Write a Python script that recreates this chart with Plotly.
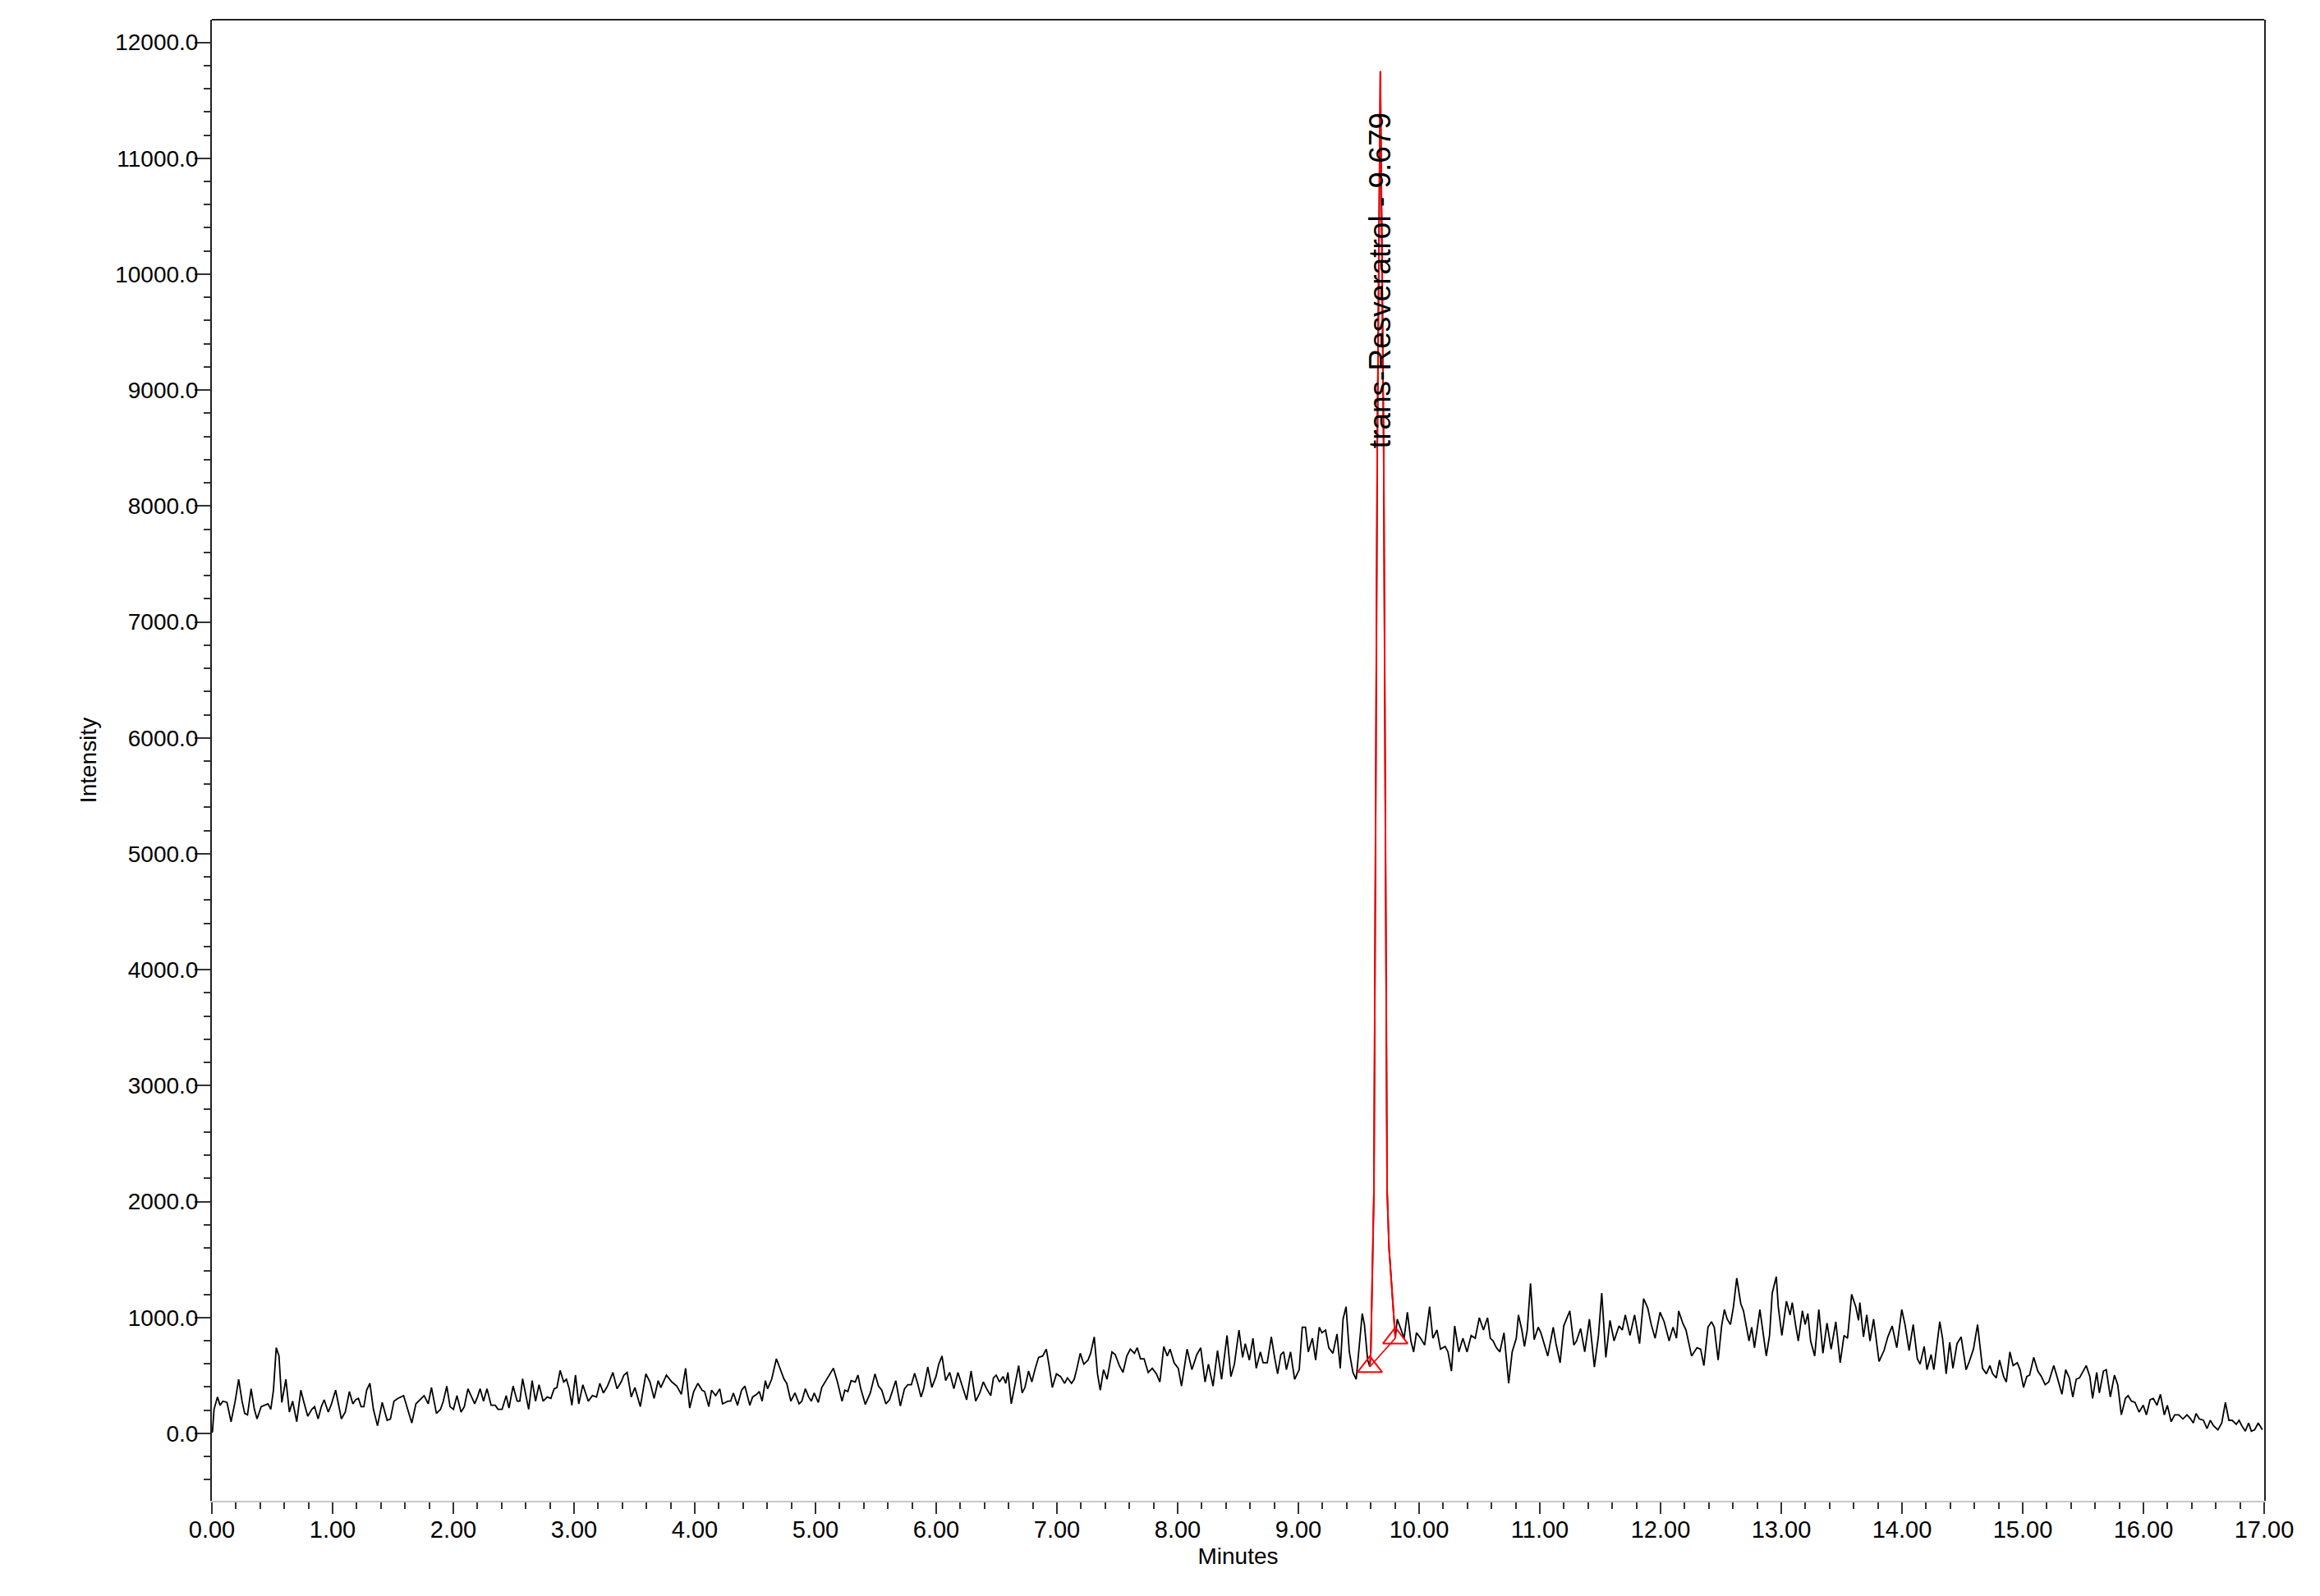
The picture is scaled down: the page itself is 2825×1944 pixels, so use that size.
import plotly.graph_objects as go

# ---------------- data (minutes, intensity) ----------------
t_00_02 = [0.000, 0.005, 0.018, 0.046, 0.068, 0.091, 0.125, 0.159, 0.193, 0.222, 0.250, 0.272, 0.295, 0.325,
           0.352, 0.374, 0.408, 0.442, 0.465, 0.488, 0.510, 0.533, 0.556, 0.579, 0.613, 0.642, 0.669, 0.703,
           0.737, 0.760, 0.794, 0.828, 0.851, 0.880, 0.907, 0.930, 0.964, 0.987, 1.025, 1.048, 1.073, 1.105,
           1.139, 1.168, 1.191, 1.214, 1.236, 1.259, 1.282, 1.309, 1.338, 1.372, 1.411, 1.452, 1.479, 1.508,
           1.542, 1.588, 1.622, 1.656, 1.690, 1.724, 1.758, 1.792, 1.819, 1.860, 1.894, 1.917, 1.946, 1.973,
           2.001, 2.030, 2.064, 2.091, 2.121]
i_00_02 = [5, 19, 208, 314, 243, 278, 267, 101, 278, 467, 278, 172, 160, 385, 208, 125, 231, 243, 255, 208,
           373, 739, 668, 267, 467, 184, 278, 101, 373, 278, 149, 208, 231, 125, 231, 290, 184, 243, 373, 255,
           125, 184, 361, 255, 290, 302, 231, 231, 373, 432, 208, 66, 267, 113, 125, 278, 302, 326, 208, 90,
           255, 290, 326, 255, 396, 172, 208, 278, 408, 231, 208, 326, 184, 231, 385]

t_02_04 = [2.177, 2.200, 2.222, 2.250, 2.279, 2.313, 2.347, 2.370, 2.404, 2.438, 2.461, 2.495, 2.529, 2.551,
           2.574, 2.597, 2.624, 2.653, 2.681, 2.710, 2.744, 2.778, 2.808, 2.835, 2.858, 2.885, 2.914, 2.937,
           2.960, 2.982, 3.012, 3.039, 3.073, 3.118, 3.152, 3.186, 3.214, 3.243, 3.277, 3.322, 3.356, 3.390,
           3.413, 3.440, 3.474, 3.504, 3.549, 3.595, 3.629, 3.663, 3.697, 3.719, 3.765, 3.810, 3.851, 3.889,
           3.924, 3.958, 3.991, 4.026, 4.060, 4.082, 4.116, 4.139, 4.173, 4.207, 4.230]
i_02_04 = [255, 314, 385, 278, 385, 243, 243, 208, 208, 326, 219, 408, 278, 278, 472, 349, 208, 455, 278, 420,
           278, 314, 302, 385, 396, 543, 444, 467, 385, 243, 503, 255, 420, 278, 326, 314, 432, 349, 408, 526,
           385, 444, 503, 526, 314, 396, 231, 514, 444, 302, 455, 396, 503, 444, 408, 337, 562, 219, 361, 432,
           373, 361, 231, 373, 326, 385, 255]

t_04_06 = [4.275, 4.297, 4.320, 4.354, 4.388, 4.415, 4.456, 4.479, 4.513, 4.535, 4.558, 4.585, 4.603, 4.637,
           4.676, 4.706, 4.740, 4.762, 4.796, 4.830, 4.864, 4.887, 4.916, 4.944, 4.966, 4.989, 5.023, 5.052,
           5.080, 5.102, 5.125, 5.148, 5.182, 5.220, 5.243, 5.268, 5.295, 5.329, 5.352, 5.375, 5.413, 5.454,
           5.493, 5.522, 5.549, 5.583, 5.613, 5.665, 5.703, 5.737, 5.765, 5.794, 5.821, 5.846, 5.874, 5.896,
           5.930, 5.964, 5.998, 6.021, 6.048, 6.078, 6.112, 6.146, 6.180, 6.214, 6.252, 6.289, 6.327, 6.361]
i_04_06 = [278, 278, 349, 243, 373, 408, 243, 314, 337, 361, 278, 455, 385, 467, 644, 562, 467, 432, 278, 349,
           255, 278, 385, 314, 278, 349, 267, 396, 444, 479, 526, 562, 444, 278, 373, 361, 455, 444, 503, 385,
           250, 349, 514, 408, 373, 255, 290, 455, 236, 385, 420, 420, 519, 432, 314, 385, 573, 396, 491, 597,
           668, 455, 526, 385, 526, 408, 290, 538, 278, 349]

t_06_08 = [6.390, 6.418, 6.452, 6.474, 6.497, 6.524, 6.554, 6.576, 6.594, 6.622, 6.656, 6.683, 6.712, 6.735,
           6.765, 6.792, 6.821, 6.848, 6.882, 6.912, 6.935, 6.962, 6.996, 7.030, 7.064, 7.087, 7.121, 7.143,
           7.166, 7.193, 7.223, 7.257, 7.279, 7.309, 7.336, 7.359, 7.386, 7.415, 7.456, 7.483, 7.517, 7.547,
           7.579, 7.608, 7.642, 7.665, 7.692, 7.722, 7.756, 7.790, 7.824, 7.853, 7.885, 7.914, 7.937, 7.971,
           8.005, 8.032, 8.078, 8.118, 8.159, 8.191, 8.227, 8.255, 8.293, 8.330, 8.364, 8.409, 8.441, 8.470]
i_06_08 = [444, 385, 326, 479, 503, 444, 491, 432, 526, 255, 432, 585, 349, 396, 538, 444, 562, 656, 668, 727,
           585, 396, 514, 491, 432, 479, 432, 467, 562, 691, 597, 632, 691, 833, 514, 373, 550, 467, 703, 680,
           585, 526, 668, 727, 691, 739, 644, 644, 526, 562, 514, 444, 750, 668, 727, 609, 562, 408, 727, 550,
           680, 739, 444, 597, 408, 715, 467, 845, 491, 597]

t_08_pk = [8.508, 8.538, 8.560, 8.594, 8.624, 8.651, 8.685, 8.708, 8.742, 8.776, 8.803, 8.828, 8.855, 8.878,
           8.901, 8.935, 8.969, 9.007, 9.032, 9.059, 9.082, 9.116, 9.143, 9.173, 9.195, 9.225, 9.252, 9.286,
           9.320, 9.347, 9.370, 9.395, 9.422, 9.452, 9.479, 9.502, 9.529, 9.547, 9.574]
i_08_pk = [892, 656, 774, 632, 821, 562, 703, 609, 609, 833, 656, 514, 680, 703, 550, 703, 467, 550, 916, 916,
           703, 821, 632, 916, 868, 892, 739, 691, 857, 562, 986, 1093, 703, 526, 467, 739, 1034, 939, 632]

# trans-Resveratrol peak (start -> apex -> end)
peak_t = [9.592, 9.600, 9.613, 9.626, 9.640, 9.653, 9.667, 9.679, 9.693, 9.707, 9.721, 9.735, 9.751, 9.773, 9.803]
peak_i = [575, 700, 1400, 2100, 5300, 8400, 10200, 11750, 10100, 8400, 5200, 2100, 1600, 1250, 822]
peak_name = "trans-Resveratrol"
peak_rt = 9.679
peak_base_t = [9.592, 9.803]
peak_base_i = [575, 822]

t_pk_105 = [9.819, 9.853, 9.876, 9.903, 9.932, 9.955, 9.978, 10.012, 10.046, 10.087, 10.114, 10.148, 10.177,
            10.216, 10.239, 10.268, 10.295, 10.329, 10.363, 10.397, 10.431, 10.465, 10.499, 10.533, 10.567]
i_pk_105 = [986, 892, 821, 1045, 798, 703, 868, 821, 762, 1093, 821, 892, 727, 750, 703, 538, 927, 703, 821,
            703, 845, 821, 998, 892, 998]

t_105_127 = [10.590, 10.613, 10.640, 10.669, 10.703, 10.742, 10.771, 10.805, 10.823, 10.851, 10.873, 10.896,
             10.923, 10.953, 10.987, 11.009, 11.066, 11.111, 11.134, 11.168, 11.198, 11.248, 11.282, 11.304,
             11.338, 11.372, 11.411, 11.452, 11.486, 11.513, 11.547, 11.581, 11.615, 11.656, 11.683, 11.708,
             11.747, 11.785, 11.826, 11.860, 11.894, 11.923, 11.955, 11.996, 12.030, 12.071, 12.103, 12.132,
             12.150, 12.184, 12.211, 12.257, 12.302, 12.332, 12.359, 12.393, 12.422, 12.445, 12.477, 12.506,
             12.529, 12.552, 12.579, 12.604, 12.631, 12.665]
i_105_127 = [821, 798, 739, 703, 868, 432, 703, 821, 1022, 892, 750, 892, 1293, 809, 916, 868, 668, 916, 774,
             609, 927, 1057, 762, 798, 904, 703, 986, 573, 845, 1211, 656, 975, 798, 927, 892, 1022, 845, 1022,
             774, 1163, 1081, 939, 821, 1045, 963, 798, 916, 821, 1057, 951, 892, 668, 739, 727, 585, 916, 963,
             916, 632, 927, 1069, 986, 939, 1093, 1340, 1116]

t_127_148 = [12.687, 12.710, 12.733, 12.755, 12.778, 12.823, 12.846, 12.876, 12.903, 12.925, 12.959, 12.975,
             13.005, 13.028, 13.043, 13.073, 13.091, 13.118, 13.141, 13.175, 13.198, 13.220, 13.243, 13.277,
             13.311, 13.345, 13.379, 13.413, 13.452, 13.488, 13.520, 13.549, 13.583, 13.617, 13.640, 13.651,
             13.681, 13.708, 13.735, 13.765, 13.810, 13.851, 13.883, 13.919, 13.957, 13.998, 14.025, 14.059,
             14.093, 14.127, 14.150, 14.184, 14.207, 14.241, 14.264, 14.313, 14.336, 14.366, 14.395, 14.422,
             14.456, 14.490, 14.531, 14.558, 14.592, 14.626, 14.667, 14.699, 14.728, 14.751, 14.781, 14.808]
i_127_148 = [1057, 916, 798, 916, 739, 1069, 892, 668, 845, 1211, 1352, 1093, 845, 1022, 1140, 1022, 1128, 939,
             798, 1057, 939, 1034, 798, 668, 1069, 691, 951, 727, 963, 609, 845, 821, 1199, 1093, 975, 1128,
             833, 1022, 798, 986, 621, 715, 833, 927, 739, 1069, 939, 715, 939, 644, 597, 750, 550, 680, 550,
             963, 821, 514, 786, 562, 774, 833, 550, 621, 727, 939, 562, 514, 585, 514, 479, 632]

t_148_17 = [14.842, 14.864, 14.894, 14.921, 14.955, 14.978, 15.007, 15.034, 15.057, 15.091, 15.125, 15.155,
            15.186, 15.216, 15.257, 15.284, 15.325, 15.356, 15.386, 15.415, 15.443, 15.470, 15.499, 15.526,
            15.556, 15.579, 15.613, 15.635, 15.669, 15.692, 15.726, 15.760, 15.787, 15.817, 15.851, 15.873,
            15.901, 15.930, 15.964, 15.998, 16.025, 16.055, 16.082, 16.112, 16.141, 16.173, 16.198, 16.230,
            16.259, 16.293, 16.327, 16.361, 16.391, 16.413, 16.436, 16.463, 16.497, 16.527, 16.554, 16.581,
            16.617, 16.649, 16.679, 16.708, 16.735, 16.769, 16.792, 16.815, 16.844, 16.871, 16.894, 16.921,
            16.951, 16.985]
i_148_17 = [491, 444, 703, 585, 609, 550, 396, 491, 503, 656, 538, 491, 420, 444, 585, 491, 337, 550, 479, 314,
            467, 479, 538, 585, 491, 302, 526, 349, 538, 550, 314, 503, 420, 160, 302, 326, 278, 267, 184, 243,
            160, 290, 302, 243, 337, 160, 243, 101, 160, 160, 125, 160, 125, 90, 172, 125, 113, 42, 113, 66,
            31, 90, 267, 113, 113, 78, 113, 66, 19, 90, 19, 31, 90, 31]

x_ticks = [i for i in range(0, 18)]
y_ticks = [i * 1000 for i in range(0, 13)]

# ---------------- build ----------------
time = (t_00_02 + t_02_04 + t_04_06 + t_06_08 + t_08_pk + peak_t + t_pk_105 + t_105_127 + t_127_148 + t_148_17)
inten = (i_00_02 + i_02_04 + i_04_06 + i_06_08 + i_08_pk + peak_i + i_pk_105 + i_105_127 + i_127_148 + i_148_17)

FONT = "Liberation Sans, Arial, sans-serif"

fig = go.Figure()
fig.add_trace(go.Scatter(x=time, y=inten, mode="lines",
                         line=dict(color="#000000", width=1.8), showlegend=False, hoverinfo="skip"))
fig.add_trace(go.Scatter(x=peak_t, y=peak_i, mode="lines",
                         line=dict(color="#ff0000", width=2), showlegend=False))
fig.add_trace(go.Scatter(x=peak_base_t, y=peak_base_i, mode="lines+markers",
                         line=dict(color="#ff0000", width=1.6),
                         marker=dict(symbol="triangle-up-open", size=26, color="#ff0000",
                                     line=dict(width=2, color="#ff0000")),
                         showlegend=False))

fig.add_annotation(x=peak_rt, y=max(peak_i), text=f"{peak_name} - {peak_rt:.3f}", textangle=-90,
                   showarrow=False, xanchor="center", yanchor="top", yshift=-48,
                   font=dict(family=FONT, size=37, color="#000000"))

fig.add_shape(type="line", xref="paper", yref="paper", x0=0, x1=1, y0=1, y1=1,
              line=dict(color="#222222", width=2))

fig.update_layout(
    width=2809, height=1928,
    margin=dict(l=250, r=60, t=16, b=108),
    paper_bgcolor="white", plot_bgcolor="white",
    font=dict(family=FONT, size=29, color="#000000"),
    xaxis=dict(range=[0, 17], tickvals=x_ticks, tickformat=".2f",
               showgrid=False, zeroline=False, showline=True, linecolor="#c8c8c8", linewidth=2,
               ticks="outside", ticklen=14, tickwidth=2, tickcolor="#333333",
               minor=dict(dtick=0.2, ticks="outside", ticklen=8, tickwidth=2, tickcolor="#333333"),
               tickfont=dict(size=29), ticklabelstandoff=-6,
               title=dict(text="Minutes", font=dict(size=28), standoff=8)),
    yaxis=dict(range=[-581, 12195], tickvals=y_ticks, tickformat=".1f",
               showgrid=False, zeroline=False, showline=True, linecolor="#222222", linewidth=2, mirror=True,
               ticks="outside", ticklen=19, tickwidth=2, tickcolor="#333333",
               minor=dict(dtick=200, ticks="outside", ticklen=8, tickwidth=2, tickcolor="#333333"),
               tickfont=dict(size=28), ticklabelstandoff=-10,
               title=dict(text="Intensity", font=dict(size=28), standoff=14)),
)

fig.write_html("out.html")
